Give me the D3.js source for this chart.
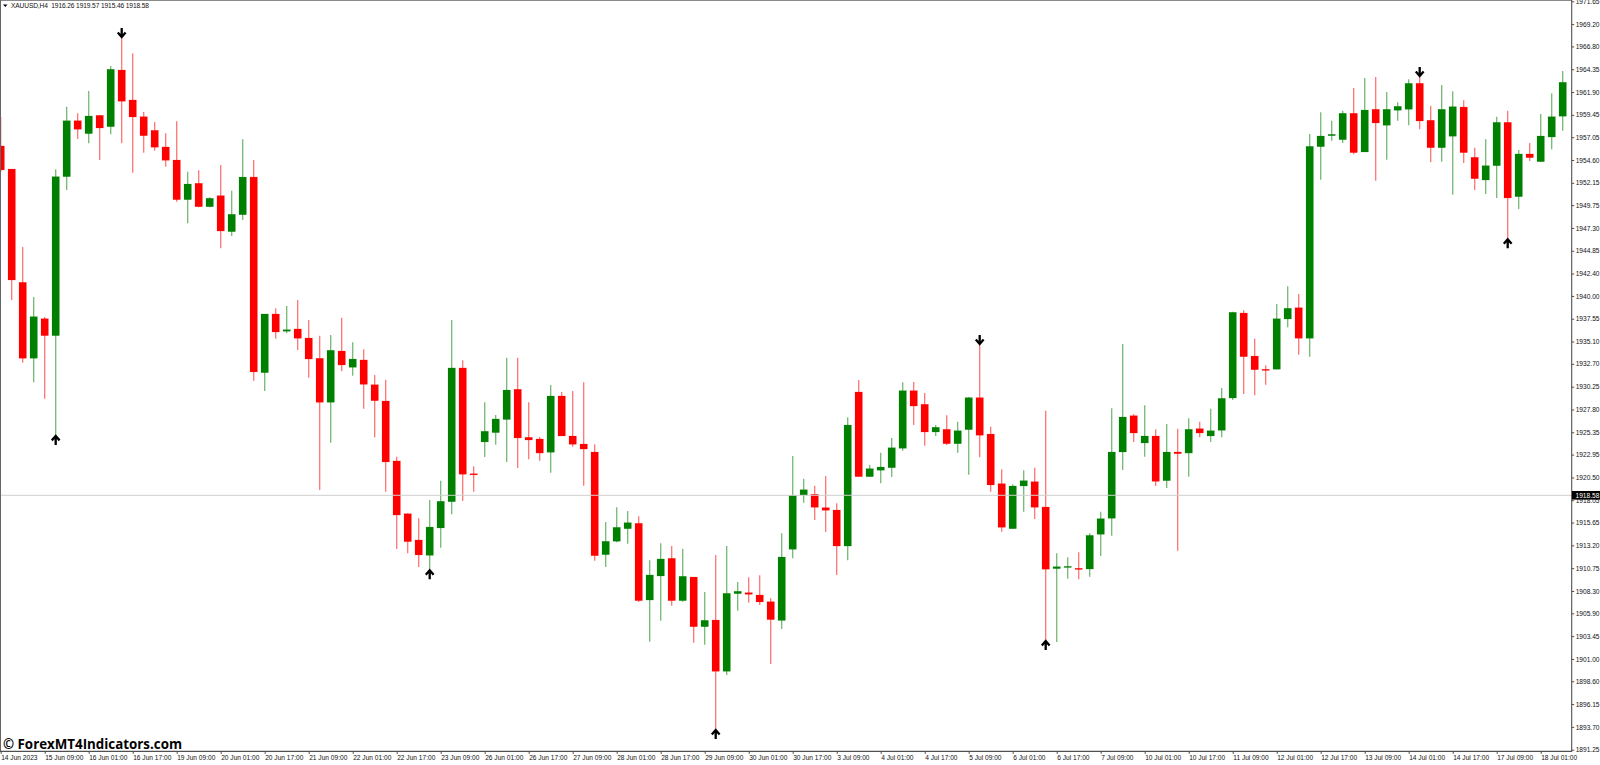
<!DOCTYPE html>
<html><head><meta charset="utf-8">
<script src="https://cdn.jsdelivr.net/npm/d3@7/dist/d3.min.js"></script>
<style>
html,body{margin:0;padding:0;background:#fff;overflow:hidden}
svg{display:block}
text{font-family:"Liberation Sans",Arial,sans-serif}
</style></head><body><svg id="c" width="1600" height="765"></svg>
<script>
const opens=[1956.11,1953.63,1941.46,1933.30,1937.55,1935.73,1952.81,1958.82,1957.43,1959.40,1958.18,1964.27,1961.05,1959.25,1957.79,1956.00,1954.60,1950.34,1952.10,1949.58,1950.77,1946.90,1948.72,1952.77,1931.75,1938.06,1936.20,1936.45,1935.48,1933.30,1928.57,1934.08,1932.33,1933.12,1930.46,1928.71,1922.27,1916.60,1913.78,1912.13,1915.07,1917.89,1932.26,1920.90,1924.31,1925.31,1926.72,1929.97,1924.81,1924.63,1923.20,1929.25,1924.95,1924.09,1923.23,1912.20,1913.64,1914.99,1915.57,1907.33,1909.91,1911.81,1907.26,1909.80,1904.46,1905.18,1899.67,1908.01,1908.12,1907.87,1907.15,1905.13,1912.78,1918.61,1918.69,1917.25,1917.00,1913.13,1929.68,1920.58,1921.27,1921.54,1923.63,1929.82,1928.36,1925.38,1925.67,1924.12,1925.63,1929.07,1925.16,1919.83,1914.99,1919.58,1920.04,1917.32,1910.70,1910.85,1910.74,1910.66,1914.39,1916.11,1923.23,1927.13,1924.20,1924.95,1920.15,1923.23,1923.12,1925.74,1924.95,1925.56,1929.03,1938.16,1933.54,1932.12,1932.12,1937.52,1938.73,1935.45,1956.03,1957.21,1956.78,1959.62,1955.46,1960.05,1958.33,1959.94,1960.05,1962.84,1958.87,1955.92,1957.15,1960.29,1954.89,1952.45,1953.99,1958.65,1950.66,1955.25,1954.42,1957.07,1959.30];
const highs=[1959.22,1953.63,1945.25,1939.88,1937.73,1953.60,1960.33,1959.62,1962.01,1959.40,1964.70,1967.71,1966.06,1959.76,1958.68,1957.47,1958.76,1953.34,1953.49,1950.59,1954.06,1951.30,1956.83,1954.60,1938.06,1938.67,1938.92,1939.56,1937.41,1935.73,1935.80,1937.66,1935.02,1934.26,1931.50,1931.00,1922.73,1916.65,1916.11,1918.07,1920.15,1937.41,1933.08,1921.69,1928.57,1927.21,1933.36,1933.36,1928.57,1924.84,1930.43,1929.68,1929.79,1930.72,1924.06,1915.71,1917.29,1916.89,1916.32,1911.60,1913.42,1913.13,1912.84,1909.80,1908.19,1912.17,1913.13,1909.27,1909.77,1909.99,1907.51,1914.50,1922.80,1920.36,1919.61,1920.65,1917.72,1926.96,1930.97,1921.84,1923.16,1924.74,1930.72,1930.75,1929.57,1926.13,1927.17,1926.49,1929.14,1934.73,1925.95,1921.37,1919.76,1921.27,1921.54,1927.67,1912.35,1911.92,1912.46,1914.50,1916.82,1927.93,1934.83,1927.28,1928.25,1925.67,1926.24,1925.74,1926.85,1926.49,1927.88,1930.11,1938.30,1938.45,1935.40,1932.55,1939.13,1941.03,1940.21,1957.39,1959.73,1958.82,1959.90,1962.34,1963.41,1963.52,1961.91,1960.80,1963.27,1963.52,1960.43,1962.66,1961.98,1961.01,1955.92,1956.83,1959.25,1959.90,1955.68,1956.43,1959.54,1961.77,1964.16];
const lows=[1953.31,1939.56,1932.83,1930.72,1928.96,1925.06,1951.38,1956.86,1956.40,1954.60,1957.36,1956.40,1953.24,1955.39,1955.60,1953.88,1950.12,1947.80,1949.52,1949.52,1945.12,1946.44,1948.16,1930.89,1929.79,1935.40,1935.98,1934.19,1931.21,1919.15,1924.23,1931.90,1931.43,1927.88,1924.81,1918.97,1912.81,1912.35,1910.88,1910.63,1912.95,1916.54,1917.97,1918.97,1922.69,1924.02,1922.16,1921.51,1922.45,1922.30,1921.01,1924.95,1923.80,1919.61,1911.55,1910.88,1913.53,1913.38,1907.12,1902.85,1905.11,1906.72,1907.15,1902.75,1902.53,1893.47,1899.27,1906.18,1907.04,1906.79,1900.46,1904.22,1911.81,1917.79,1915.93,1914.64,1910.02,1911.60,1920.58,1920.58,1919.87,1920.55,1923.37,1926.13,1923.91,1924.95,1923.98,1923.16,1920.79,1922.66,1918.97,1914.67,1914.99,1916.82,1916.03,1903.03,1902.82,1909.62,1909.56,1909.83,1912.06,1914.24,1921.30,1924.31,1922.73,1919.58,1919.36,1912.63,1920.58,1924.81,1924.31,1924.81,1928.82,1929.46,1929.32,1930.46,1932.12,1936.63,1933.68,1933.47,1952.48,1956.67,1956.43,1955.21,1955.46,1952.38,1954.63,1958.82,1958.33,1957.90,1954.35,1954.42,1950.87,1954.28,1951.38,1950.95,1950.52,1946.19,1949.34,1954.49,1954.42,1955.75,1957.75];
const closes=[1953.53,1941.71,1933.30,1937.77,1935.73,1952.81,1958.82,1957.90,1959.33,1958.04,1964.35,1960.91,1959.22,1957.21,1955.97,1954.57,1950.34,1952.02,1949.58,1950.49,1946.97,1948.77,1952.77,1931.83,1938.06,1936.12,1936.37,1935.45,1933.22,1928.57,1934.16,1932.58,1933.22,1930.50,1928.74,1922.16,1916.46,1913.60,1912.17,1915.17,1917.94,1932.26,1920.84,1920.79,1925.46,1926.78,1929.89,1924.74,1924.52,1923.12,1929.25,1924.95,1924.06,1923.55,1912.09,1913.64,1915.14,1915.64,1907.26,1910.02,1911.74,1907.26,1909.88,1904.46,1905.15,1899.67,1908.05,1908.27,1907.94,1907.12,1905.22,1911.95,1918.58,1919.18,1917.29,1916.97,1913.13,1926.13,1920.58,1921.44,1921.62,1923.69,1929.82,1928.17,1925.38,1925.89,1924.12,1925.52,1929.07,1925.03,1919.69,1915.14,1919.58,1920.15,1917.29,1910.64,1910.91,1910.95,1910.63,1914.28,1916.07,1923.23,1926.99,1925.27,1924.95,1920.08,1923.23,1923.05,1925.67,1925.27,1925.52,1929.00,1938.24,1933.47,1932.07,1932.04,1937.55,1938.67,1935.45,1956.07,1957.18,1957.36,1959.62,1955.39,1959.97,1958.58,1960.05,1960.37,1962.84,1958.79,1955.92,1960.05,1960.33,1955.39,1952.59,1953.99,1958.65,1950.52,1955.25,1954.85,1957.18,1959.25,1962.95];
const upArrows=[5,39,65,95,137];
const downArrows=[11,89,129];
const priceTicks=[1971.65,1969.20,1966.80,1964.35,1961.90,1959.45,1957.05,1954.60,1952.15,1949.75,1947.30,1944.85,1942.40,1940.00,1937.55,1935.10,1932.70,1930.25,1927.80,1925.35,1922.95,1920.50,1918.05,1915.65,1913.20,1910.75,1908.30,1905.90,1903.45,1901.00,1898.60,1896.15,1893.70,1891.25];
const timeLabels=["14 Jun 2023","15 Jun 09:00","16 Jun 01:00","16 Jun 17:00","19 Jun 09:00","20 Jun 01:00","20 Jun 17:00","21 Jun 09:00","22 Jun 01:00","22 Jun 17:00","23 Jun 09:00","26 Jun 01:00","26 Jun 17:00","27 Jun 09:00","28 Jun 01:00","28 Jun 17:00","29 Jun 09:00","30 Jun 01:00","30 Jun 17:00","3 Jul 09:00","4 Jul 01:00","4 Jul 17:00","5 Jul 09:00","6 Jul 01:00","6 Jul 17:00","7 Jul 09:00","10 Jul 01:00","10 Jul 17:00","11 Jul 09:00","12 Jul 01:00","12 Jul 17:00","13 Jul 09:00","14 Jul 01:00","14 Jul 17:00","17 Jul 09:00","18 Jul 01:00"];
const lastPrice=1918.58;
const header="XAUUSD,H4  1916.26 1919.57 1915.46 1918.58";
const watermark="\u00A9 ForexMT4Indicators.com";

const svg=d3.select("#c");
const x=d3.scaleLinear([0,142],[0.7,1562.7]);
const y=d3.scaleLinear([1891.25,1971.65],[749.7,1.3]);
const RED="#ff0000",GREEN="#008000",AXIS="#505050";
const bars=d3.range(opens.length);
const col=i=>closes[i]>=opens[i]?GREEN:RED;

svg.append("g").selectAll("line").data(bars).join("line")
 .attr("x1",x).attr("x2",x).attr("y1",i=>y(highs[i])).attr("y2",i=>y(lows[i]))
 .attr("stroke",col).attr("stroke-width",1.3).attr("stroke-opacity",.55);
svg.append("g").selectAll("rect").data(bars).join("rect")
 .attr("x",i=>x(i)-3.7).attr("width",7.4)
 .attr("y",i=>y(Math.max(opens[i],closes[i])))
 .attr("height",i=>Math.max(1.2,Math.abs(y(opens[i])-y(closes[i]))))
 .attr("fill",col).attr("stroke",col).attr("stroke-width",.5).attr("stroke-opacity",.35);

svg.append("line").attr("x1",1).attr("x2",1572).attr("y1",y(lastPrice)).attr("y2",y(lastPrice)).attr("stroke","#cfcfcf").attr("stroke-width",1);

const arrow=(g,list,dir)=>g.selectAll("path").data(list).join("path")
 .attr("d",i=>{const p=d3.path(),cx=x(i);
   const tip=dir>0?y(lows[i])+1:y(highs[i])-1, base=dir>0?tip+9:tip-9, wing=dir>0?tip+4.4:tip-4.4;
   p.moveTo(cx,base);p.lineTo(cx,tip);p.moveTo(cx-3.9,wing);p.lineTo(cx,tip);p.lineTo(cx+3.9,wing);return p.toString();})
 .attr("fill","none").attr("stroke","#000").attr("stroke-width",2.3);
arrow(svg.append("g"),upArrows,1);
arrow(svg.append("g"),downArrows,-1);

// frame
svg.append("rect").attr("x",0).attr("y",0).attr("width",1572).attr("height",1).attr("fill","#8a8a8a");
svg.append("rect").attr("x",0).attr("y",0).attr("width",1).attr("height",752).attr("fill","#666");

const fs="6.6px";
const ya=d3.axisRight(y).tickValues(priceTicks).tickFormat(d=>d.toFixed(2)).tickSize(2.5).tickPadding(1.5);
const yg=svg.append("g").attr("transform","translate(1571.7,0)").call(ya);
yg.select(".domain").attr("stroke",AXIS).attr("stroke-width",1.1).attr("d","M0,0V752");
yg.selectAll(".tick line").attr("stroke",AXIS);
yg.selectAll("text").attr("font-size",fs).attr("fill","#111");

const xa=d3.axisBottom(x).tickValues(d3.range(0,timeLabels.length).map(k=>k*4)).tickFormat((d,k)=>timeLabels[k]).tickSize(2.5).tickPadding(1.5);
const xg=svg.append("g").attr("transform","translate(0,751.4)").call(xa);
xg.select(".domain").attr("stroke",AXIS).attr("stroke-width",1.1).attr("d","M0,0H1572");
xg.selectAll(".tick line").attr("stroke",AXIS);
xg.selectAll("text").attr("font-size",fs).attr("fill","#111").attr("text-anchor","start");

svg.append("rect").attr("x",1572).attr("y",y(lastPrice)-4.3).attr("width",28).attr("height",8.6).attr("fill","#000");
svg.append("text").attr("x",1575.5).attr("y",y(lastPrice)+2.4).attr("font-size",fs).attr("fill","#fff").text(lastPrice.toFixed(2));

svg.append("path").attr("d",d3.line()([[3,4.5],[7.5,4.5],[5.25,7]])+"Z").attr("fill","#000");
svg.append("text").attr("x",11).attr("y",8.3).attr("font-size","6.6px").attr("fill","#111").attr("textLength",138).attr("lengthAdjust","spacing").style("white-space","pre").text(header);
svg.append("text").attr("x",3).attr("y",749).attr("font-size","14px").attr("font-weight","700").style("font-family","'Open Sans',sans-serif").attr("fill","#000").attr("textLength",179).attr("lengthAdjust","spacingAndGlyphs").text(watermark);
</script></body></html>
